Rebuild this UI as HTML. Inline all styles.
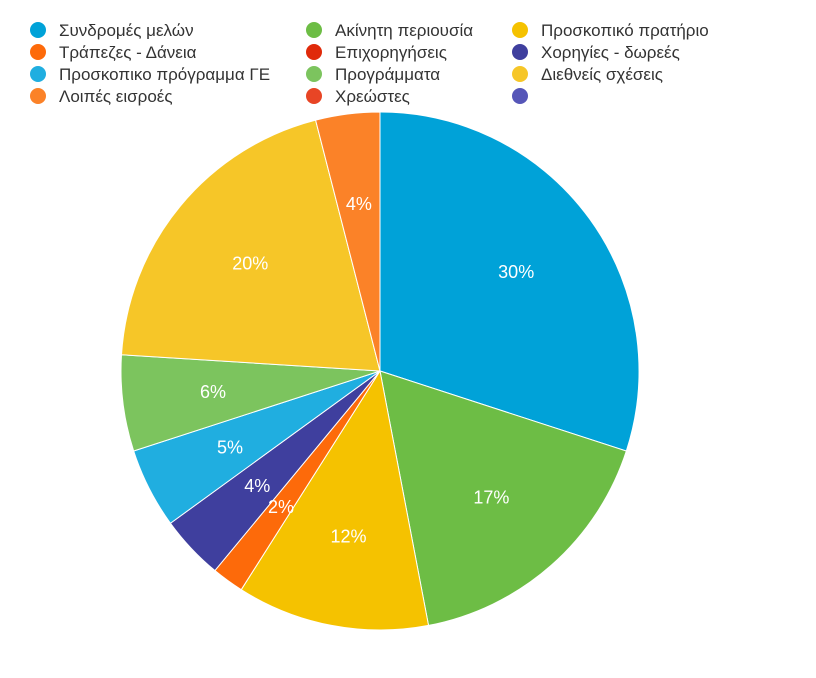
<!DOCTYPE html>
<html><head><meta charset="utf-8"><style>
body{margin:0;background:#fff;width:816px;height:673px;overflow:hidden;font-family:"Liberation Sans",sans-serif}
</style></head><body>
<svg width="816" height="673">
<g id="legend"></g>
<g id="pie"></g>
</svg>
<script>
const categories=["Συνδρομές μελών","Ακίνητη περιουσία","Προσκοπικό πρατήριο","Τράπεζες - Δάνεια","Επιχορηγήσεις","Χορηγίες - δωρεές","Προσκοπικο πρόγραμμα ΓΕ","Προγράμματα","Διεθνείς σχέσεις","Λοιπές εισροές","Χρεώστες",""];
const colors=["#00a2d8","#6dbd45","#f5c200","#fd6a0a","#e02a0a","#3f3f9e","#20aee0","#7cc45e","#f6c628","#fb8228","#e84525","#5656b8"];
const pieCats=["Συνδρομές μελών","Ακίνητη περιουσία","Προσκοπικό πρατήριο","Τράπεζες - Δάνεια","Χορηγίες - δωρεές","Προσκοπικο πρόγραμμα ΓΕ","Προγράμματα","Διεθνείς σχέσεις","Λοιπές εισροές"];
const values=[30,17,12,2,4,5,6,20,4];
const NS="http://www.w3.org/2000/svg";
const lg=document.getElementById('legend'),pg=document.getElementById('pie');
const colX=[38,314,520],rowY=[30,52,74,96];
categories.forEach((c,i)=>{
 const col=i%3,row=Math.floor(i/3);
 const g=document.createElementNS(NS,'g');
 
 
 const ci=document.createElementNS(NS,'circle');
 ci.setAttribute('cx',colX[col]);ci.setAttribute('cy',rowY[row]);ci.setAttribute('r',8);ci.setAttribute('fill',colors[i]);
 
 
 const t=document.createElementNS(NS,'text');
 t.setAttribute('x',colX[col]+21);t.setAttribute('y',rowY[row]+6);t.setAttribute('font-size','17');t.setAttribute('fill','#333');
 
 
 t.textContent=c;
 g.appendChild(ci);g.appendChild(t);lg.appendChild(g);
});
const cx=380,cy=371,R=259;
const total=values.reduce((a,b)=>a+b,0);
function pt(a,r){return [cx+r*Math.sin(a),cy-r*Math.cos(a)];}
let acc=0;
values.forEach((v,i)=>{
 const a0=acc/total*2*Math.PI;acc+=v;const a1=acc/total*2*Math.PI;
 const p0=pt(a0,R),p1=pt(a1,R);
 const path=document.createElementNS(NS,'path');
 path.setAttribute('d',`M${cx},${cy}L${p0[0]},${p0[1]}A${R},${R} 0 ${a1-a0>Math.PI?1:0} 1 ${p1[0]},${p1[1]}Z`);
 path.setAttribute('fill',colors[categories.indexOf(pieCats[i])]);
 path.setAttribute('stroke','#fff');path.setAttribute('stroke-width','1');
 
 
 pg.appendChild(path);
});
acc=0;
values.forEach((v,i)=>{
 const am=(acc+v/2)/total*2*Math.PI;acc+=v;
 const p=pt(am,R*0.65);
 const t=document.createElementNS(NS,'text');
 t.setAttribute('x',p[0]);t.setAttribute('y',p[1]+6);t.setAttribute('text-anchor','middle');
 t.setAttribute('font-size','18');t.setAttribute('fill','#fff');
 
 
 t.textContent=Math.round(v/total*100)+'%';
 pg.appendChild(t);
});
</script>
</body></html>
